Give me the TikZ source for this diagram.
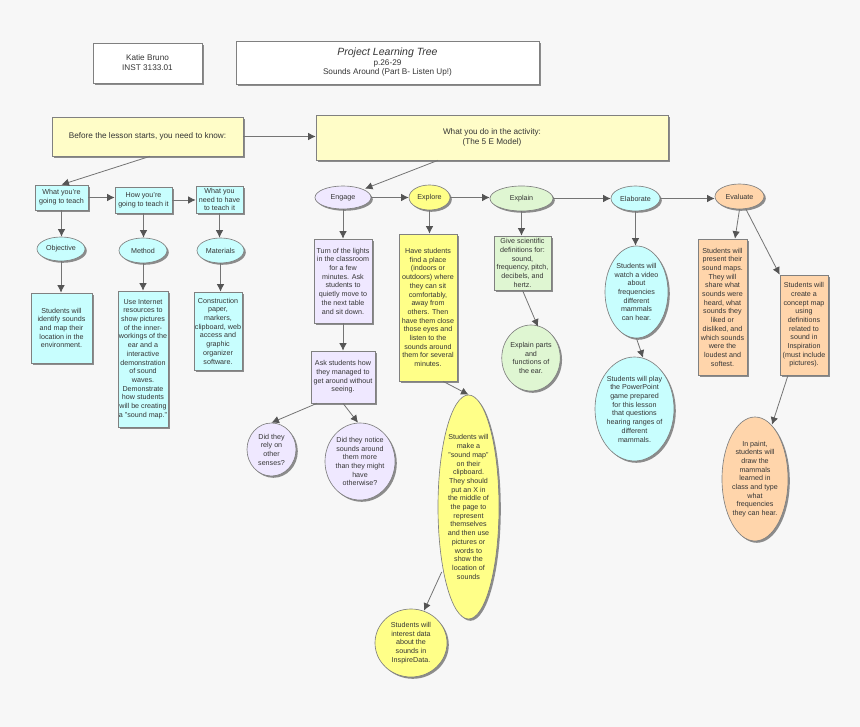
\documentclass[tikz,border=0pt]{standalone}
\usepackage{fontspec}
\setmainfont{Liberation Sans}
\usetikzlibrary{shapes.geometric,shadows,arrows.meta}
\definecolor{bgc}{HTML}{F7F7F7}
\definecolor{edgec}{HTML}{808080}
\definecolor{linec}{HTML}{747474}
\definecolor{tipc}{HTML}{555555}
\definecolor{txtc}{HTML}{353535}
\definecolor{shdc}{HTML}{8C8C8C}
\definecolor{creamc}{HTML}{FFFDC8}
\definecolor{cyanc}{HTML}{C8FEFE}
\definecolor{purp}{HTML}{EFE8FF}
\definecolor{yell}{HTML}{FFFF88}
\definecolor{grn}{HTML}{DFF6D2}
\definecolor{orng}{HTML}{FFD5AB}
\tikzset{
  x=1pt,y=-1pt,
  shp/.style={draw=edgec,line width=0.65pt,inner sep=0pt,align=center,text=txtc,
    font=\fontsize{7.15}{8.7}\selectfont,
    drop shadow={shadow xshift=1.8pt,shadow yshift=-1.8pt,opacity=1,fill=shdc}},
  rbox/.style={shp,rectangle},
  ell/.style={shp,ellipse},
  hdr/.style={font=\fontsize{8.2}{10}\selectfont},
  wh/.style={fill=white},
  cr/.style={fill=creamc},
  cy/.style={fill=cyanc},
  pu/.style={fill=purp},
  ye/.style={fill=yell},
  gn/.style={fill=grn},
  og/.style={fill=orng},
  conn/.style={draw=linec,line width=0.8pt,-{Latex[length=7.5pt,width=7.5pt,color=tipc]}}
}
\newcommand{\bxnode}[7][]{%
  \pgfmathsetmacro{\myw}{#5-#3}\pgfmathsetmacro{\myh}{#6-#4}%
  \pgfmathsetmacro{\myx}{(#3+#5)/2}\pgfmathsetmacro{\myy}{(#4+#6)/2}%
  \node[#1,minimum width=\myw pt,minimum height=\myh pt] (#2) at (\myx,\myy) {#7};}
\begin{document}
\begin{tikzpicture}
\useasboundingbox (0,0) rectangle (860,727);
\fill[bgc] (0,0) rectangle (860,727);
% header
\bxnode[rbox,wh,hdr]{katie}{93}{43}{202}{83}{Katie Bruno\\INST 3133.01}
\bxnode[rbox,wh,hdr]{title}{236}{41}{539}{84}{{\fontsize{10.5}{12}\selectfont\itshape Project Learning Tree}\\[-0.5pt]p.26-29\\[-0.5pt]Sounds Around (Part B- Listen Up!)}
\bxnode[rbox,cr,hdr]{before}{52}{117}{243}{156}{Before the lesson starts, you need to know:}
\bxnode[rbox,cr,hdr]{whatdo}{316}{115}{668}{160}{What you do in the activity:\\(The 5 E Model)}
% left column
\bxnode[rbox,cy]{teach}{35}{185}{88}{210}{What you're\\going to teach}
\bxnode[rbox,cy]{how}{115}{187}{172}{213}{How you're\\going to teach it}
\bxnode[rbox,cy]{need}{196}{186}{243}{213}{What you\\need to have\\to teach it}
\bxnode[ell,cy]{objective}{37}{237}{85}{261}{Objective}
\bxnode[ell,cy]{method}{119}{238}{167}{263}{Method}
\bxnode[ell,cy]{materials}{197}{238}{244}{263}{Materials}
\bxnode[rbox,cy]{objtext}{31}{293}{92}{363}{Students will\\identify sounds\\and map their\\location in the\\environment.}
\bxnode[rbox,cy]{methtext}{118}{291}{168}{427}{Use Internet\\resources to\\show pictures\\of the inner-\\workings of the\\ear and a\\interactive\\demonstration\\of sound\\waves.\\Demonstrate\\how students\\will be creating\\a "sound map."}
\bxnode[rbox,cy]{mattext}{194}{292}{242}{370}{Construction\\paper,\\markers,\\clipboard, web\\access and\\graphic\\organizer\\software.}
% 5E row
\bxnode[ell,pu]{engage}{315}{186}{371}{209}{Engage}
\bxnode[ell,ye]{explore}{409}{185}{450}{210}{Explore}
\bxnode[ell,gn]{explain}{490}{186}{553}{211}{Explain}
\bxnode[ell,cy]{elaborate}{611}{186}{660}{211}{Elaborate}
\bxnode[ell,og]{evaluate}{715}{184}{764}{209}{Evaluate}
% engage
\bxnode[rbox,pu]{turn}{314}{239}{372}{323}{Turn of the lights\\in the classroom\\for a few\\minutes. Ask\\students to\\quietly move to\\the next table\\and sit down.}
\bxnode[rbox,pu]{ask}{311}{351}{375}{403}{Ask students how\\they managed to\\get around without\\seeing.}
\bxnode[ell,pu]{rely}{247}{423}{296}{476}{Did they\\rely on\\other\\senses?}
\bxnode[ell,pu]{notice}{325}{423}{395}{500}{Did they notice\\sounds around\\them more\\than they might\\have\\otherwise?}
% explore
\bxnode[rbox,ye]{have}{399}{234}{457}{381}{Have students\\find a place\\(indoors or\\outdoors) where\\they can sit\\comfortably,\\away from\\others. Then\\have them close\\those eyes and\\listen to the\\sounds around\\them for several\\minutes.}
\bxnode[ell,ye]{make}{438}{395}{499}{619}{Students will\\make a\\"sound map"\\on their\\clipboard.\\They should\\put an X in\\the middle of\\the page to\\represent\\themselves\\and then use\\pictures or\\words to\\show the\\location of\\sounds}
\bxnode[ell,ye]{interest}{375}{609}{447}{677}{Students will\\interest data\\about the\\sounds in\\InspireData.}
% explain
\bxnode[rbox,gn]{give}{494}{236}{551}{290}{Give scientific\\definitions for:\\sound,\\frequency, pitch,\\decibels, and\\hertz.}
\bxnode[ell,gn]{parts}{502}{325}{560}{391}{Explain parts\\and\\functions of\\the ear.}
% elaborate
\bxnode[ell,cy]{watch}{605}{246}{668}{338}{Students will\\watch a video\\about\\frequencies\\different\\mammals\\can hear.}
\bxnode[ell,cy]{play}{595}{357}{674}{461}{Students will play\\the PowerPoint\\game prepared\\for this lesson\\that questions\\hearing ranges of\\different\\mammals.}
% evaluate
\bxnode[rbox,og]{present}{698}{239}{747}{375}{Students will\\present their\\sound maps.\\They will\\share what\\sounds were\\heard, what\\sounds they\\liked or\\disliked, and\\which sounds\\were the\\loudest and\\softest.}
\bxnode[rbox,og]{create}{780}{275}{828}{375}{Students will\\create a\\concept map\\using\\definitions\\related to\\sound in\\Inspiration\\(must include\\pictures).}
\bxnode[ell,og]{paint}{722}{417}{788}{541}{In paint,\\students will\\draw the\\mammals\\learned in\\class and type\\what\\frequencies\\they can hear.}
% connectors
\draw[conn] (before.east) -- (before.east -| whatdo.west);
\draw[conn] ([xshift=2.5pt]before.south) -- (teach.north);
\draw[conn] (teach.east) -- (teach.east -| how.west);
\draw[conn] (how.east) -- (how.east -| need.west);
\draw[conn] (teach.south) -- (teach.south |- objective.north);
\draw[conn] (how.south) -- (how.south |- method.north);
\draw[conn] (need.south) -- (need.south |- materials.north);
\draw[conn] (objective.south) -- (objective.south |- objtext.north);
\draw[conn] (method.south) -- (method.south |- methtext.north);
\draw[conn] (materials.south) -- (materials.south |- mattext.north);
\draw[conn] ([xshift=-54pt]whatdo.south) -- ([xshift=22pt,yshift=-3pt]engage.north);
\draw[conn] (engage.east) -- (engage.east -| explore.west);
\draw[conn] (explore.east) -- (explore.east -| explain.west);
\draw[conn] (explain.east) -- (explain.east -| elaborate.west);
\draw[conn] (elaborate.east) -- (elaborate.east -| evaluate.west);
\draw[conn] (engage.south) -- (engage.south |- turn.north);
\draw[conn] (turn.south) -- (turn.south |- ask.north);
\draw[conn] (explore.south) -- (explore.south |- have.north);
\draw[conn] (explain.south) -- (explain.south |- give.north);
\draw[conn] (give.south) -- ([xshift=7pt,yshift=-2pt]parts.north);
\draw[conn] ([xshift=15pt]have.south) -- (make.north);
\draw[conn] ([xshift=-26pt]ask.south) -- (rely.north);
\draw[conn] (ask.south) -- ([xshift=-2pt]notice.north);
\draw[conn] ([xshift=4pt,yshift=-65pt]make.west) -- ([xshift=13pt,yshift=-2pt]interest.north);
\draw[conn] (elaborate.south) -- (elaborate.south |- watch.north);
\draw[conn] (watch.south) -- ([xshift=8.5pt,yshift=-1pt]play.north);
\draw[conn] (evaluate.south) -- ([xshift=12.5pt]present.north);
\draw[conn] ([xshift=6.5pt]evaluate.south) -- (create.north west);
\draw[conn] ([xshift=-16pt]create.south) -- ([xshift=17pt,yshift=-8pt]paint.north);
\end{tikzpicture}
\end{document}
